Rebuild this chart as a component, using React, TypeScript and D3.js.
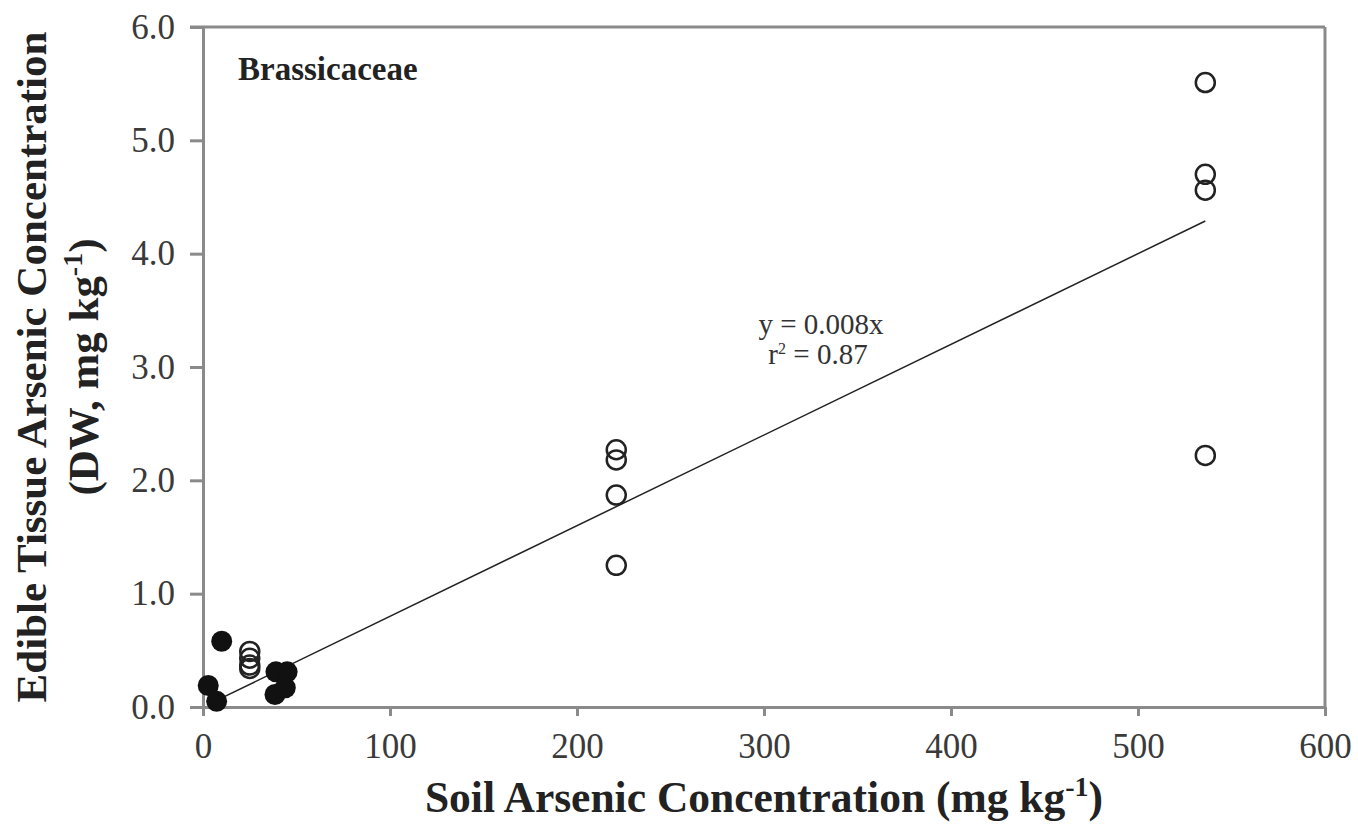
import { useEffect, useRef } from "react";
import * as d3 from "d3";

// soil As (mg/kg) vs edible tissue As (DW, mg/kg)
const filledX = [10, 2.8, 7.3, 39, 45, 38.5, 44];
const filledY = [0.58, 0.19, 0.05, 0.31, 0.31, 0.11, 0.17];
const openX = [25, 25, 25, 25, 221, 221, 221, 221, 536, 536, 536, 536];
const openY = [0.49, 0.43, 0.37, 0.34, 2.27, 2.18, 1.87, 1.25, 5.51, 4.70, 4.56, 2.22];
const xTicks = [0, 100, 200, 300, 400, 500, 600];
const yTicks = [0, 1, 2, 3, 4, 5, 6];
const slope = 0.008;
const fitRange = [7, 536];

function App() {
  const ref = useRef<SVGSVGElement>(null);

  const width = 1358;
  const height = 825;
  const margin = { top: 27, right: 33, bottom: 118, left: 203 };

  useEffect(() => {
    const svg = d3.select(ref.current);
    svg.selectAll("*").remove();
    const font = "'Liberation Serif', 'Times New Roman', serif";
    const axisColor = "#8a8a8a";

    const x = d3.scaleLinear().domain([0, 600]).range([margin.left, width - margin.right]);
    const y = d3.scaleLinear().domain([0, 6]).range([height - margin.bottom, margin.top]);

    // frame (top + right)
    svg.append("line")
      .attr("x1", x(0) - 13).attr("x2", x(600))
      .attr("y1", y(6)).attr("y2", y(6))
      .attr("stroke", axisColor).attr("stroke-width", 3);
    svg.append("line")
      .attr("x1", x(600)).attr("x2", x(600))
      .attr("y1", y(6)).attr("y2", y(0))
      .attr("stroke", axisColor).attr("stroke-width", 3);

    // x axis
    const gx = svg.append("g")
      .attr("transform", `translate(0, ${y(0)})`)
      .call(d3.axisBottom(x).tickValues(xTicks).tickSize(9).tickSizeOuter(0).tickPadding(17).tickFormat(d3.format("d")));
    gx.select(".domain").attr("stroke", axisColor).attr("stroke-width", 3);
    gx.selectAll(".tick line").attr("stroke", axisColor).attr("stroke-width", 3);
    gx.selectAll(".tick text")
      .attr("font-family", font).attr("font-size", 35).attr("fill", "#3a3a3a");

    // y axis
    const gy = svg.append("g")
      .attr("transform", `translate(${x(0)}, 0)`)
      .call(d3.axisLeft(y).tickValues(yTicks).tickSize(13).tickSizeOuter(0).tickPadding(15).tickFormat(d3.format(".1f")));
    gy.select(".domain").attr("stroke", axisColor).attr("stroke-width", 3);
    gy.selectAll(".tick line").attr("stroke", axisColor).attr("stroke-width", 3);
    gy.selectAll(".tick text")
      .attr("font-family", font).attr("font-size", 35).attr("fill", "#3a3a3a");

    // regression line
    svg.append("line")
      .attr("x1", x(fitRange[0])).attr("y1", y(fitRange[0] * slope))
      .attr("x2", x(fitRange[1])).attr("y2", y(fitRange[1] * slope))
      .attr("stroke", "#222").attr("stroke-width", 1.5);

    // filled points
    svg.append("g").selectAll("circle")
      .data(filledX.map((v, i) => [v, filledY[i]]))
      .enter().append("circle")
      .attr("cx", d => x(d[0])).attr("cy", d => y(d[1]))
      .attr("r", 10.5).attr("fill", "#111");

    // open points
    svg.append("g").selectAll("circle")
      .data(openX.map((v, i) => [v, openY[i]]))
      .enter().append("circle")
      .attr("cx", d => x(d[0])).attr("cy", d => y(d[1]))
      .attr("r", 9.5).attr("fill", "none")
      .attr("stroke", "#222").attr("stroke-width", 2.5);

    // panel label
    svg.append("text")
      .attr("x", 238).attr("y", 80)
      .attr("font-family", font).attr("font-weight", "bold").attr("font-size", 33)
      .attr("fill", "#222").text("Brassicaceae");

    // equation
    svg.append("text")
      .attr("font-family", font).attr("font-size", 29).attr("fill", "#333")
      .attr("text-anchor", "middle")
      .attr("x", 821).attr("y", 334).text("y = 0.008x");
    const r2 = svg.append("text")
      .attr("font-family", font).attr("font-size", 29).attr("fill", "#333")
      .attr("text-anchor", "middle").attr("x", 818).attr("y", 364);
    r2.append("tspan").text("r");
    r2.append("tspan").attr("dy", -10).attr("font-size", 16).text("2");
    r2.append("tspan").attr("dy", 10).text(" = 0.87");

    // x title
    const xt = svg.append("text")
      .attr("x", 764).attr("y", 812)
      .attr("text-anchor", "middle")
      .attr("font-family", font).attr("font-weight", "bold").attr("font-size", 43.5).attr("fill", "#222");
    xt.append("tspan").text("Soil Arsenic Concentration (mg kg");
    xt.append("tspan").attr("dy", -16).attr("font-size", 28).text("-1");
    xt.append("tspan").attr("dy", 16).text(")");

    // y title
    const cy = (y(0) + y(6)) / 2;
    const yt = svg.append("g").attr("transform", `translate(0, ${cy}) rotate(-90)`);
    yt.append("text")
      .attr("x", 0).attr("y", 46)
      .attr("text-anchor", "middle")
      .attr("font-family", font).attr("font-weight", "bold").attr("font-size", 43).attr("fill", "#222")
      .text("Edible Tissue Arsenic Concentration");
    const yt2 = yt.append("text")
      .attr("x", 0).attr("y", 98)
      .attr("text-anchor", "middle")
      .attr("font-family", font).attr("font-weight", "bold").attr("font-size", 43).attr("fill", "#222");
    yt2.append("tspan").text("(DW, mg kg");
    yt2.append("tspan").attr("dy", -16).attr("font-size", 28).text("-1");
    yt2.append("tspan").attr("dy", 16).text(")");
  }, []);

  return (
    <svg ref={ref} width={width} height={height} style={{ position: "absolute", left: 0, top: 0, background: "#fff" }}></svg>
  );
}

export default App;
